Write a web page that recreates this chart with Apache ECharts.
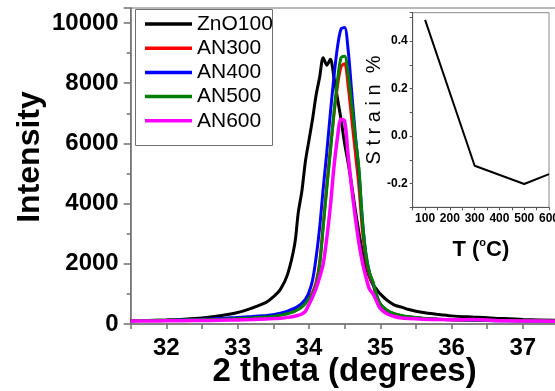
<!DOCTYPE html>
<html>
<head>
<meta charset="utf-8">
<script src="https://cdn.jsdelivr.net/npm/echarts@6/dist/echarts.min.js"></script>
<style>
  html, body { margin: 0; padding: 0; background: #fff; }
  #chart { width: 555px; height: 391px; }
</style>
</head>
<body>
<div id="chart"></div>
<script>
// XRD (002) peak, intensity vs 2 theta
const twoTheta = [31.5, 31.75, 32, 32.25, 32.5, 32.75, 33, 33.2, 33.4, 33.5,
  33.6, 33.7, 33.8, 33.85, 33.9, 33.95, 34, 34.05, 34.1, 34.15,
  34.2, 34.25, 34.3, 34.35, 34.4, 34.45, 34.5, 34.55, 34.6, 34.65,
  34.7, 34.75, 34.8, 34.85, 34.9, 34.95, 35, 35.1, 35.2, 35.3,
  35.4, 35.6, 35.8, 36, 36.3, 36.6, 37, 37.5];
const zno100 = [110, 120, 135, 160, 200, 275, 380, 530, 720, 900,
  1150, 1650, 2650, 3700, 4400, 5400, 6100, 6800, 7600, 8200,
  8850, 8600, 8800, 8200, 7500, 6800, 6000, 5350, 4600, 3800,
  3050, 2400, 1900, 1550, 1300, 1150, 1000, 780, 630, 560,
  480, 380, 320, 270, 230, 195, 150, 120];
const an300 = [115, 118, 122, 130, 140, 155, 175, 200, 235, 260,
  300, 360, 440, 500, 580, 700, 870, 1050, 1380, 2050,
  3300, 4600, 5800, 6950, 7900, 8550, 8650, 7900, 6800, 5700,
  4600, 3100, 2150, 1600, 1300, 900, 650, 430, 330, 270,
  230, 185, 160, 145, 130, 118, 108, 100];
const an400 = [110, 115, 125, 140, 155, 180, 220, 250, 285, 310,
  360, 430, 530, 600, 690, 820, 1050, 1450, 2200, 3200,
  4500, 5700, 7000, 8200, 9200, 9800, 9850, 9100, 7700, 6300,
  5100, 3450, 2300, 1700, 1350, 950, 660, 440, 330, 270,
  230, 180, 155, 140, 125, 112, 100, 95];
const an500 = [120, 120, 125, 135, 145, 160, 180, 200, 230, 250,
  290, 340, 420, 480, 560, 680, 850, 1000, 1300, 1950,
  3200, 4500, 5700, 7000, 8100, 8850, 8900, 8300, 7300, 6200,
  5200, 3400, 2300, 1700, 1400, 950, 680, 450, 340, 280,
  240, 190, 160, 145, 130, 120, 110, 100];
const an600 = [100, 100, 105, 110, 115, 125, 135, 150, 170, 180,
  195, 220, 260, 290, 330, 420, 650, 900, 1180, 1550,
  2000, 2850, 3900, 5200, 6200, 6800, 6750, 5600, 4500, 3550,
  2700, 2050, 1550, 1150, 1000, 750, 520, 330, 250, 200,
  180, 160, 150, 140, 150, 115, 100, 95];

// inset: strain vs annealing temperature
const tempC = [100, 300, 500, 600];
const strain = [0.49, -0.125, -0.202, -0.16];

const sampleNames = ['ZnO100', 'AN300', 'AN400', 'AN500', 'AN600'];
const sampleColors = ['#000000', '#ff0000', '#0000ff', '#008000', '#ff00ff'];
const sampleData = [zno100, an300, an400, an500, an600];

const pair = (xs, ys) => xs.map((x, i) => [x, ys[i]]);

const axisGray = '#707070';

const chart = echarts.init(document.getElementById('chart'));
chart.setOption({
  animation: false,
  textStyle: { fontFamily: "'Liberation Sans', Arial, sans-serif" },
  grid: [
    { left: 130.7, top: 8, right: -3.5, bottom: 67, show: true, borderColor: axisGray, borderWidth: 1,
      outerBoundsMode: 'none', containLabel: false },
    { left: 412.7, top: 12.7, width: 136.3, height: 194.6, show: true, borderColor: '#888', borderWidth: 1,
      backgroundColor: '#fff', outerBoundsMode: 'none', containLabel: false }
  ],
  xAxis: [
    {
      type: 'value', gridIndex: 0, min: 31.5, max: 37.5, interval: 0.5,
      axisLine: { lineStyle: { color: axisGray, width: 1.5 } },
      axisTick: { length: 5, lineStyle: { color: axisGray, width: 1.5 } },
      splitLine: { show: false },
      axisLabel: {
        formatter: v => Number.isInteger(Math.round(v * 100) / 100) ? String(Math.round(v)) : '',
        fontSize: 24, fontWeight: 'bold', color: '#000', margin: 12
      },
      name: '2 theta (degrees)', nameLocation: 'middle', nameGap: 31, nameMoveOverlap: false,
      nameTextStyle: { fontSize: 33, fontWeight: 'bold', color: '#000' }
    },
    {
      type: 'value', gridIndex: 1, min: 50, max: 600, interval: 50,
      axisLine: { onZero: false, lineStyle: { color: '#555', width: 1 } },
      axisTick: { length: 3, lineStyle: { color: '#555' } },
      splitLine: { show: false },
      axisLabel: {
        formatter: v => v % 100 === 0 ? String(v) : '',
        fontSize: 12, fontWeight: 'bold', color: '#000', margin: 5
      },
      name: 'T ({sup|o}C)', nameLocation: 'middle', nameGap: 30, nameMoveOverlap: false,
      nameTextStyle: {
        fontSize: 22, fontWeight: 'bold', color: '#000', lineHeight: 26,
        rich: { sup: { fontSize: 11, fontWeight: 'bold', verticalAlign: 'top', lineHeight: 26 } }
      }
    }
  ],
  yAxis: [
    {
      type: 'value', gridIndex: 0, min: 0, max: 10500, interval: 2000,
      axisLine: { show: true, lineStyle: { color: axisGray, width: 1.5 } },
      axisTick: { length: 7, lineStyle: { color: axisGray, width: 1.5 } },
      minorTick: { show: true, splitNumber: 2, length: 4, lineStyle: { color: axisGray, width: 1.5 } },
      splitLine: { show: false },
      axisLabel: {
        formatter: v => v % 2000 === 0 ? String(v) : '',
        fontSize: 24, fontWeight: 'bold', color: '#000', margin: 12
      },
      name: 'Intensity', nameLocation: 'middle', nameGap: 85, nameMoveOverlap: false,
      nameTextStyle: { fontSize: 32, fontWeight: 'bold', color: '#000', padding: [0, 0, 0, 18] }
    },
    {
      type: 'value', gridIndex: 1, min: -0.3, max: 0.52, interval: 0.1,
      axisLine: { show: true, onZero: false, lineStyle: { color: '#555', width: 1 } },
      axisTick: { length: 3, lineStyle: { color: '#555' } },
      splitLine: { show: false },
      axisLabel: {
        formatter: v => {
          const k = Math.round(v * 10);
          return (k % 2 === 0 && k > -3 && k <= 4) ? (k / 10).toFixed(1) : '';
        },
        fontSize: 12, fontWeight: 'bold', color: '#000', margin: 5
      },
      name: 'S t r a i n  %', nameLocation: 'middle', nameGap: 28, nameMoveOverlap: false,
      nameTextStyle: { fontSize: 20, color: '#000' }
    }
  ],
  legend: {
    data: sampleNames,
    orient: 'vertical', left: 145, top: 12, padding: 0,
    itemWidth: 47, itemHeight: 3.5, itemGap: 0.2, icon: 'rect',
    selectedMode: false,
    textStyle: { fontSize: 21, lineHeight: 24, color: '#000' }
  },
  graphic: [
    // legend frame
    { type: 'rect', left: 133, top: 7, shape: { width: 137, height: 136 },
      style: { fill: 'none', stroke: axisGray, lineWidth: 1 } }
  ],
  series: sampleNames.map((name, i) => ({
    name: name, type: 'line', xAxisIndex: 0, yAxisIndex: 0,
    data: pair(twoTheta, sampleData[i]),
    showSymbol: false, symbol: 'none', smooth: 0.3,
    color: sampleColors[i],
    lineStyle: { width: i === 4 ? 3.5 : 3, color: sampleColors[i] }
  })).concat([{
    name: 'strain', type: 'line', xAxisIndex: 1, yAxisIndex: 1,
    data: pair(tempC, strain),
    showSymbol: false, symbol: 'none',
    lineStyle: { width: 2, color: '#000' }, color: '#000'
  }])
});
</script>
</body>
</html>
